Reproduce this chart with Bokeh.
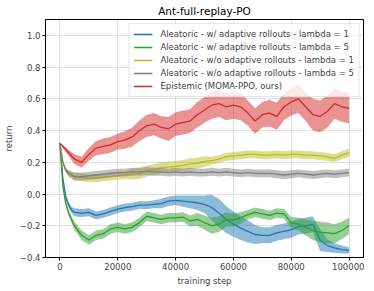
from bokeh.plotting import figure
from bokeh.models import ColumnDataSource, Legend, LegendItem, FixedTicker, Range1d
from bokeh.embed import file_html
from bokeh.resources import INLINE

steps = [0, 1000, 2000, 3000, 4000, 5000] + list(range(7500, 100001, 2500))

blue_mean = [0.32, 0.10, -0.02, -0.07, -0.10, -0.115,
             -0.12, -0.115, -0.135, -0.125, -0.11, -0.095, -0.085, -0.08, -0.07, -0.07,
             -0.065, -0.06, -0.045, -0.04, -0.045, -0.05, -0.055, -0.065, -0.085, -0.12,
             -0.16, -0.19, -0.215, -0.235, -0.255, -0.26, -0.26, -0.245, -0.235, -0.225,
             -0.205, -0.20, -0.19, -0.29, -0.325, -0.34, -0.35, -0.355]
blue_std = [0.0, 0.01, 0.015, 0.02, 0.02, 0.025,
            0.025, 0.025, 0.025, 0.025, 0.025, 0.025, 0.025, 0.025, 0.025, 0.025,
            0.025, 0.03, 0.03, 0.03, 0.035, 0.04, 0.045, 0.055, 0.08, 0.09,
            0.085, 0.08, 0.075, 0.07, 0.06, 0.05, 0.05, 0.05, 0.05, 0.05,
            0.05, 0.05, 0.05, 0.07, 0.04, 0.03, 0.025, 0.02]

green_mean = [0.32, 0.05, -0.06, -0.12, -0.16, -0.20,
              -0.26, -0.29, -0.26, -0.25, -0.22, -0.21, -0.22, -0.21, -0.18, -0.14,
              -0.15, -0.16, -0.15, -0.15, -0.145, -0.17, -0.16, -0.18, -0.20, -0.19,
              -0.16, -0.165, -0.15, -0.13, -0.115, -0.125, -0.135, -0.12, -0.125, -0.18,
              -0.19, -0.21, -0.23, -0.24, -0.245, -0.25, -0.23, -0.20]
green_std = [0.0, 0.01, 0.015, 0.02, 0.02, 0.025,
             0.03, 0.03, 0.03, 0.03, 0.03, 0.03, 0.03, 0.03, 0.03, 0.03,
             0.03, 0.03, 0.03, 0.03, 0.03, 0.035, 0.04, 0.045, 0.05, 0.05,
             0.045, 0.04, 0.035, 0.03, 0.03, 0.03, 0.03, 0.03, 0.03, 0.035,
             0.04, 0.05, 0.06, 0.065, 0.065, 0.06, 0.055, 0.05]

yellow_mean = [0.32, 0.20, 0.15, 0.13, 0.12, 0.11,
               0.105, 0.10, 0.10, 0.105, 0.11, 0.115, 0.12, 0.125, 0.13, 0.145,
               0.155, 0.165, 0.17, 0.175, 0.18, 0.19, 0.195, 0.205, 0.21, 0.22,
               0.235, 0.24, 0.245, 0.25, 0.25, 0.245, 0.245, 0.25, 0.245, 0.25,
               0.25, 0.245, 0.245, 0.24, 0.235, 0.225, 0.245, 0.26]
yellow_std = ([0.0, 0.01, 0.015, 0.02, 0.02, 0.025]
              + [0.025] * 7 + [0.035] * 11 + [0.025] * 20)

grey_mean = [0.32, 0.20, 0.15, 0.13, 0.12, 0.11,
             0.11, 0.115, 0.12, 0.125, 0.13, 0.135, 0.135, 0.14, 0.14, 0.145,
             0.14, 0.14, 0.135, 0.14, 0.135, 0.14, 0.135, 0.135, 0.14, 0.135,
             0.14, 0.135, 0.13, 0.135, 0.13, 0.13, 0.13, 0.125, 0.12, 0.125,
             0.13, 0.125, 0.12, 0.125, 0.13, 0.125, 0.13, 0.135]
grey_std = [0.0, 0.01, 0.015, 0.02, 0.02, 0.025] + [0.025] * 38

red_mean = [0.32, 0.30, 0.28, 0.26, 0.24, 0.22,
            0.20, 0.25, 0.29, 0.30, 0.31, 0.33, 0.34, 0.36, 0.40, 0.43,
            0.44, 0.42, 0.41, 0.44, 0.45, 0.46, 0.50, 0.53, 0.56, 0.57,
            0.55, 0.56, 0.55, 0.51, 0.46, 0.50, 0.51, 0.49, 0.55, 0.58,
            0.60, 0.55, 0.50, 0.49, 0.52, 0.57, 0.55, 0.54]
red_std = [0.0, 0.01, 0.015, 0.02, 0.025, 0.03,
           0.035, 0.04, 0.045, 0.05, 0.05, 0.05, 0.055, 0.06, 0.065, 0.07,
           0.07, 0.07, 0.075, 0.075, 0.075, 0.075, 0.08, 0.08, 0.085, 0.085,
           0.085, 0.085, 0.085, 0.08, 0.08, 0.08, 0.085, 0.085, 0.085, 0.085,
           0.09, 0.09, 0.1, 0.1, 0.1, 0.095, 0.095, 0.095]

labels = ["Aleatoric - w/ adaptive rollouts - lambda = 1",
          "Aleatoric - w/ adaptive rollouts - lambda = 5",
          "Aleatoric - w/o adaptive rollouts - lambda = 1",
          "Aleatoric - w/o adaptive rollouts - lambda = 5",
          "Epistemic (MOMA-PPO, ours)"]
colors = ["#1f77b4", "#2ca02c", "#bcbd22", "#7f7f7f", "#d62728"]
series = [(blue_mean, blue_std), (green_mean, green_std), (yellow_mean, yellow_std),
          (grey_mean, grey_std), (red_mean, red_std)]

y_ticks = [-0.4, -0.2, 0.0, 0.2, 0.4, 0.6, 0.8, 1.0]
x_ticks = [0, 20000, 40000, 60000, 80000, 100000]

FONT = "DejaVu Sans"

p = figure(frame_width=318, frame_height=238, output_backend="svg", toolbar_location=None,
           x_range=Range1d(-5000, 105000), y_range=Range1d(-0.4, 1.1),
           title="Ant-full-replay-PO", min_border_right=1, min_border_top=0,
           min_border_left=0, min_border_bottom=0)

p.title.align = "center"
p.title.text_font = FONT
p.title.text_font_size = "10.5px"
p.title.text_font_style = "normal"
p.title.text_color = "black"
p.title.standoff = 5
p.title.offset = 0

items = []
for (m, s), c, lab in zip(series, colors, labels):
    lo = [a - b for a, b in zip(m, s)]
    hi = [a + b for a, b in zip(m, s)]
    src = ColumnDataSource(dict(x=steps, m=m, lo=lo, hi=hi))
    p.varea(x="x", y1="lo", y2="hi", source=src, fill_color=c, fill_alpha=0.5)
    r = p.line(x="x", y="m", source=src, line_color=c, line_width=1.3)
    items.append(LegendItem(label=lab, renderers=[r]))

legend = Legend(items=items, location="top_right")
legend.label_text_font = FONT
legend.label_text_font_size = "8.5px"
legend.label_height = 12
legend.glyph_height = 12
legend.glyph_width = 19
legend.spacing = 1
legend.padding = 4
legend.margin = 4
legend.label_standoff = 8
legend.border_line_color = "#cccccc"
legend.border_line_width = 1
legend.background_fill_alpha = 0.8
p.add_layout(legend)

p.xaxis.ticker = FixedTicker(ticks=x_ticks)
p.yaxis.ticker = FixedTicker(ticks=y_ticks)
p.yaxis.major_label_overrides = {t: f"{t:.1f}".replace("-", "\u2212") for t in y_ticks}
p.xaxis.major_label_overrides = {t: str(t) for t in x_ticks}

for ax in (p.xaxis, p.yaxis):
    ax.major_label_text_font = FONT
    ax.major_label_text_font_size = "8.5px"
    ax.axis_label_text_font = FONT
    ax.axis_label_text_font_size = "8.5px"
    ax.axis_label_text_font_style = "normal"
    ax.minor_tick_line_color = None
    ax.major_tick_out = 3
    ax.major_tick_in = 0
    ax.major_label_standoff = 2
    ax.axis_label_standoff = 3
    ax.axis_line_color = "black"
    ax.major_tick_line_color = "black"

p.xaxis.axis_label = "training step"
p.yaxis.axis_label = "return"

p.xgrid.grid_line_color = "#b0b0b0"
p.ygrid.grid_line_color = "#b0b0b0"
p.xgrid.grid_line_alpha = 0.4
p.ygrid.grid_line_alpha = 0.4
p.outline_line_color = "black"
p.outline_line_alpha = 1.0

open("out.html", "w").write(file_html(p, INLINE))
